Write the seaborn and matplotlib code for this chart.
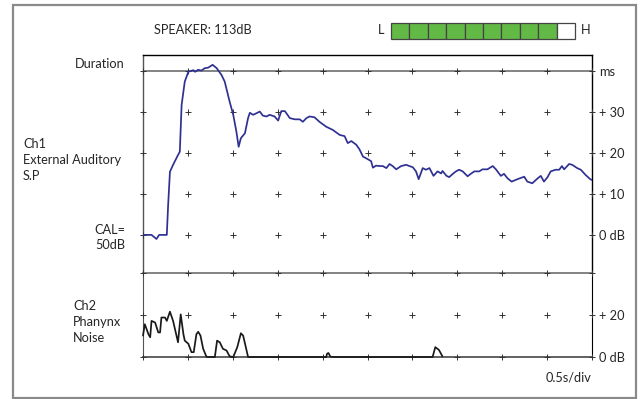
import numpy as np
import pandas as pd
import matplotlib
matplotlib.use("Agg")
import matplotlib.pyplot as plt
import seaborn as sns
from matplotlib.patches import Rectangle

# ---------------- data ----------------
ch1_x = [0.0, 0.19, 0.30, 0.36, 0.53, 0.56, 0.60, 0.67, 0.78, 0.82, 0.86, 0.93, 1.01, 1.12, 1.16,
         1.23, 1.30, 1.38, 1.45, 1.55, 1.64, 1.75, 1.82, 1.93, 2.01, 2.08, 2.13, 2.18, 2.27, 2.34,
         2.38, 2.45, 2.53, 2.60, 2.67, 2.75, 2.82, 2.93, 3.01, 3.08, 3.16, 3.27, 3.38, 3.49, 3.56,
         3.64, 3.71, 3.82, 3.93, 4.08, 4.23, 4.38, 4.49, 4.56, 4.64, 4.75, 4.82, 4.90, 4.97, 5.08,
         5.12, 5.19, 5.27, 5.34, 5.42, 5.49, 5.56, 5.64, 5.75, 5.86, 6.01, 6.08, 6.14, 6.23, 6.30,
         6.38, 6.47, 6.56, 6.64, 6.67, 6.76, 6.82, 6.90, 6.97, 7.04, 7.12, 7.23, 7.30, 7.38, 7.49,
         7.56, 7.67, 7.79, 7.86, 7.97, 8.04, 8.12, 8.21, 8.34, 8.49, 8.56, 8.67, 8.79, 8.86, 8.93,
         9.01, 9.08, 9.19, 9.27, 9.33, 9.38, 9.49, 9.56, 9.67, 9.75, 9.86, 9.96, 10.0]
ch1_db = [0.0, 0.0, -1.0, 0.0, 0.0, 7.3, 15.4, 17.1, 19.5, 20.3, 31.7, 37.4, 39.8, 40.2, 39.8,
          40.3, 40.1, 40.7, 40.8, 41.5, 40.7, 39.0, 37.4, 32.5, 29.3, 25.2, 21.5, 23.6, 24.8, 28.5,
          29.8, 29.3, 29.7, 30.1, 29.1, 28.9, 29.3, 28.9, 27.9, 30.2, 30.2, 28.5, 28.2, 28.2, 27.6,
          28.5, 28.9, 28.7, 27.6, 26.4, 25.6, 24.4, 24.1, 22.4, 22.9, 22.0, 20.9, 19.1, 18.7, 18.0,
          16.4, 16.9, 16.8, 16.8, 16.3, 17.3, 16.8, 16.0, 16.8, 17.1, 16.5, 15.5, 13.6, 16.3, 15.9,
          16.3, 14.4, 15.5, 15.0, 15.6, 14.4, 14.1, 14.9, 15.5, 15.9, 15.5, 14.3, 14.9, 15.5, 15.5,
          16.0, 16.0, 16.8, 16.0, 14.4, 14.9, 13.8, 13.0, 13.6, 14.2, 13.0, 12.6, 13.8, 14.4, 13.0,
          14.1, 15.5, 15.9, 15.9, 16.8, 16.0, 17.3, 17.1, 16.3, 15.9, 14.6, 13.6, 13.4]

ch2_x = [0.0, 0.04, 0.08, 0.12, 0.16, 0.19, 0.27, 0.34, 0.38, 0.41, 0.49, 0.53, 0.60, 0.67, 0.78,
         0.84, 0.90, 0.93, 1.01, 1.08, 1.13, 1.19, 1.23, 1.28, 1.34, 1.41, 1.43, 1.60, 1.65, 1.71,
         1.78, 1.86, 1.93, 2.01, 2.10, 2.18, 2.23, 2.29, 2.34, 4.08, 4.10, 4.13, 4.17, 4.20, 6.45,
         6.51, 6.59, 6.67]
ch2_db = [10.2, 15.6, 13.3, 10.9, 9.4, 17.2, 16.4, 11.7, 11.7, 18.8, 18.8, 17.2, 21.6, 17.2, 7.0,
          20.3, 10.9, 7.8, 6.3, 2.3, 2.3, 10.9, 12.0, 10.2, 3.9, 0.3, 0.0, 0.0, 7.8, 7.0,
          3.9, 3.1, 0.3, 0.0, 4.7, 11.3, 10.2, 4.7, 0.0, 0.0, 1.6, 1.9, 0.3, 0.0, 0.0,
          4.7, 3.4, 0.3]

div_x = list(range(0, 11))
ch1_rows = [0, 10, 20, 30, 40]
ch1_labels = ["0 dB", "+ 10", "+ 20", "+ 30", "ms"]
ch2_rows = [0, 20, 40]
ch2_labels = ["0 dB", "+ 20", ""]

speaker_text = "SPEAKER: 113dB"
level_cells = list(range(10))
level_on = 9

# ---------------- style ----------------
sns.set_style("white")
plt.rcParams['font.family'] = ['Lato', 'DejaVu Sans']

W, H = 640, 399
fig = plt.figure(figsize=(W / 100, H / 100), dpi=100)


def rect(x0, y0, x1, y1):
    return [x0 / W, 1 - y1 / H, (x1 - x0) / W, (y1 - y0) / H]


def fx(px):
    return px / W


def fy(py):
    return 1 - py / H


# outer frame
fig.patches.append(Rectangle((fx(12.5), fy(398)), fx(636) - fx(12.5), fy(5) - fy(398),
                             transform=fig.transFigure, fill=False, edgecolor="#8a8a8a",
                             linewidth=1.6))

BLUE = "#2e3192"
GRID_LINE = "#7a7a7a"
CROSS = "#333333"
FS = 9.2
CROSS_S = 14
CROSS_LW = 0.7

# ---------------- Ch1 axes ----------------
ax1 = fig.add_axes(rect(143, 55, 592, 273))
ax1.set_xlim(0, 10)
ax1.set_ylim(-9.3, 43.9)
df1 = pd.DataFrame({"x": ch1_x, "db": ch1_db})
sns.lineplot(data=df1, x="x", y="db", ax=ax1, color=BLUE, linewidth=1.25, sort=False, zorder=4)
ax1.plot([0, 10], [40, 40], color=GRID_LINE, linewidth=1.3, zorder=2)
gx, gy = np.meshgrid(div_x, ch1_rows)
ax1.scatter(gx.ravel(), gy.ravel(), marker="+", s=CROSS_S, linewidths=CROSS_LW, color=CROSS,
            clip_on=False, zorder=3)
ax1.set_xticks([])
ax1.yaxis.tick_right()
ax1.set_yticks(ch1_rows)
ax1.set_yticklabels(ch1_labels, fontsize=FS)
ax1.tick_params(axis="y", length=0, pad=5)
ax1.set_xlabel("")
ax1.set_ylabel("")
for s in ["top", "right"]:
    ax1.spines[s].set_color("black")
    ax1.spines[s].set_linewidth(1.0)
ax1.spines["left"].set_color("#555555")
ax1.spines["left"].set_linewidth(1.0)
ax1.spines["bottom"].set_visible(False)

# ---------------- Ch2 axes ----------------
ax2 = fig.add_axes(rect(143, 273, 592, 357))
ax2.set_xlim(0, 10)
ax2.set_ylim(0, 40)
df2 = pd.DataFrame({"x": ch2_x, "db": ch2_db})
sns.lineplot(data=df2, x="x", y="db", ax=ax2, color="#1a1a1a", linewidth=1.25, sort=False,
             zorder=4)
for ln in ax2.lines:
    ln.set_clip_on(False)
gx2, gy2 = np.meshgrid(div_x, ch2_rows)
ax2.scatter(gx2.ravel(), gy2.ravel(), marker="+", s=CROSS_S, linewidths=CROSS_LW, color=CROSS,
            clip_on=False, zorder=3)
ax2.set_xticks([])
ax2.yaxis.tick_right()
ax2.set_yticks(ch2_rows)
ax2.set_yticklabels(ch2_labels, fontsize=FS)
ax2.tick_params(axis="y", length=0, pad=5)
ax2.set_xlabel("")
ax2.set_ylabel("")
ax2.spines["top"].set_color(GRID_LINE)
ax2.spines["top"].set_linewidth(1.3)
ax2.spines["bottom"].set_color("#555555")
ax2.spines["bottom"].set_linewidth(1.3)
ax2.spines["left"].set_color("#555555")
ax2.spines["right"].set_color("black")

# ---------------- level meter ----------------
axm = fig.add_axes(rect(391, 23, 575, 38.5))
colors = ["#63b946" if i < level_on else "white" for i in level_cells]
bars = axm.bar(level_cells, [1] * len(level_cells), width=1.0, color=colors,
               edgecolor="#444444", linewidth=0.9)
for b in bars:
    b.set_clip_on(False)
axm.set_xlim(-0.5, len(level_cells) - 0.5)
axm.set_ylim(0, 1)
axm.axis("off")

# ---------------- texts ----------------
fig.text(fx(154), fy(30), speaker_text, fontsize=FS, va="center", ha="left")
fig.text(fx(381), fy(30.5), "L", fontsize=FS, va="center", ha="center")
fig.text(fx(586), fy(30.5), "H", fontsize=FS, va="center", ha="center")
fig.text(fx(125), fy(63.5), "Duration", fontsize=FS, va="center", ha="right")
fig.text(fx(23), fy(160), "Ch1\nExternal Auditory\nS.P", fontsize=FS, va="center", ha="left",
         linespacing=1.35)
fig.text(fx(125), fy(237.5), "CAL=\n50dB", fontsize=FS, va="center", ha="right",
         linespacing=1.35)
fig.text(fx(73), fy(322), "Ch2\nPhanynx\nNoise", fontsize=FS, va="center", ha="left",
         linespacing=1.35)
fig.text(fx(592), fy(377), "0.5s/div", fontsize=FS, va="center", ha="right")

fig.savefig("out.png", dpi=100)
